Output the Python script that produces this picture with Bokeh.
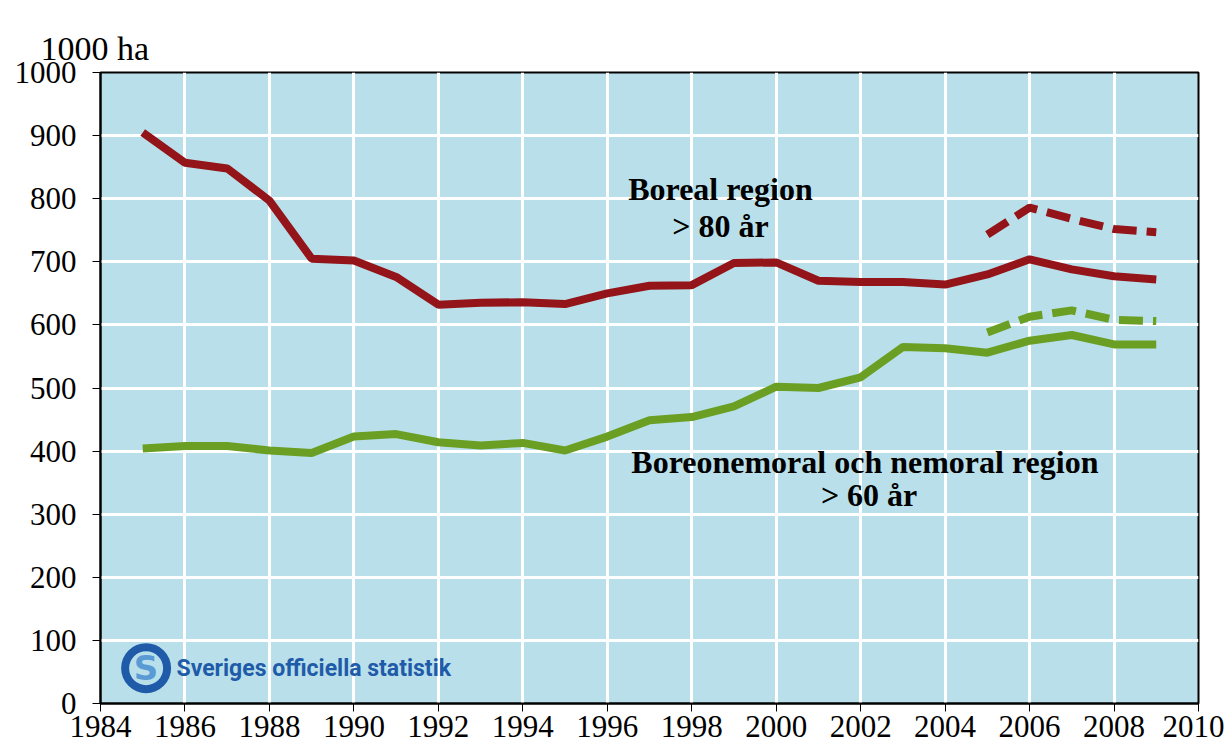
from bokeh.plotting import figure
from bokeh.models import Range1d, FixedTicker, Label
from bokeh.core.properties import value
from bokeh.embed import file_html
from bokeh.resources import INLINE

years = list(range(1985, 2010))
boreal = [905, 857, 848, 797, 705, 702, 676, 632, 635, 636, 633, 650, 662, 663,
          698, 699, 670, 668, 668, 664, 680, 704, 688, 677, 672]
boreo = [404, 408, 408, 401, 397, 423, 427, 414, 409, 413, 401, 423, 449, 454,
         471, 502, 500, 517, 565, 563, 556, 575, 584, 569, 569]
years_d = [2005, 2006, 2007, 2008, 2009]
boreal_d = [743, 786, 768, 752, 747]
boreo_d = [588, 613, 623, 608, 606]
x_ticks = list(range(1984, 2011, 2))
y_ticks = list(range(0, 1001, 100))

RED = "#931419"
GREEN = "#6A9F24"
BG = "#B9E0EA"
SERIF = "Liberation Serif"

p = figure(width=1224, height=746, output_backend="svg", toolbar_location=None,
           x_range=Range1d(1984, 2010), y_range=Range1d(0, 1000),
           min_border_left=100, min_border_right=26, min_border_top=72, min_border_bottom=43,
           title="1000 ha")
p.background_fill_color = BG
p.border_fill_color = "white"
p.outline_line_color = "black"
p.outline_line_width = 2

p.title.text_font = SERIF
p.title.text_font_size = "34px"
p.title.text_font_style = "normal"
p.title.text_color = "black"
p.title.align = "left"
p.title.offset = -60
p.title.standoff = 8
p.title.vertical_align = "top"

for ax in (p.xaxis[0], p.yaxis[0]):
    ax.major_label_text_font = SERIF
    ax.major_label_text_font_size = "31px"
    ax.major_label_text_color = "black"
    ax.axis_line_color = "black"
    ax.axis_line_width = 2
    ax.major_tick_line_color = "black"
    ax.major_tick_out = 8
    ax.major_tick_in = 0
    ax.minor_tick_line_color = None
p.xaxis.ticker = FixedTicker(ticks=x_ticks)
p.yaxis.ticker = FixedTicker(ticks=y_ticks)
p.xaxis.major_label_standoff = 4
p.yaxis.major_label_standoff = 16

p.xgrid.ticker = FixedTicker(ticks=x_ticks)
p.ygrid.ticker = FixedTicker(ticks=y_ticks)
for g in (p.xgrid[0], p.ygrid[0]):
    g.grid_line_color = "white"
    g.grid_line_width = 3

p.line(years, boreal, line_color=RED, line_width=8)
p.line(years, boreo, line_color=GREEN, line_width=8)
p.line(years_d, boreal_d, line_color=RED, line_width=8, line_dash="24 10")
p.line(years_d, boreo_d, line_color=GREEN, line_width=8, line_dash="24 10")

def lab(x, y, t):
    p.add_layout(Label(x=x, y=y, text=t, text_font=SERIF, text_font_size="32px",
                       text_font_style="bold", text_align="center",
                       text_baseline="middle", text_color="black"))

lab(1998.68, 816, "Boreal region")
lab(1998.68, 757, "> 80 år")
lab(2002.1, 382, "Boreonemoral och nemoral region")
lab(2002.2, 330, "> 60 år")

# logo
p.annulus(x=[1985.08], y=[56], inner_radius=17, outer_radius=25,
          inner_radius_units="screen", outer_radius_units="screen",
          fill_color="#1F5BA8", line_color=None)
p.text(x=[1985.08], y=[56], text=["S"], text_font=value("DejaVu Sans"),
       text_font_size="34px", text_font_style="bold", text_color="#5A9BD5",
       text_align="center", text_baseline="middle")
p.text(x=[1985.8], y=[56], text=["Sveriges officiella statistik"],
       text_font=value("Roboto"), text_font_size="23px",
       text_font_style="bold", text_color="#1F5BA8", text_align="left",
       text_baseline="middle")

open("out.html", "w").write(file_html(p, INLINE))
